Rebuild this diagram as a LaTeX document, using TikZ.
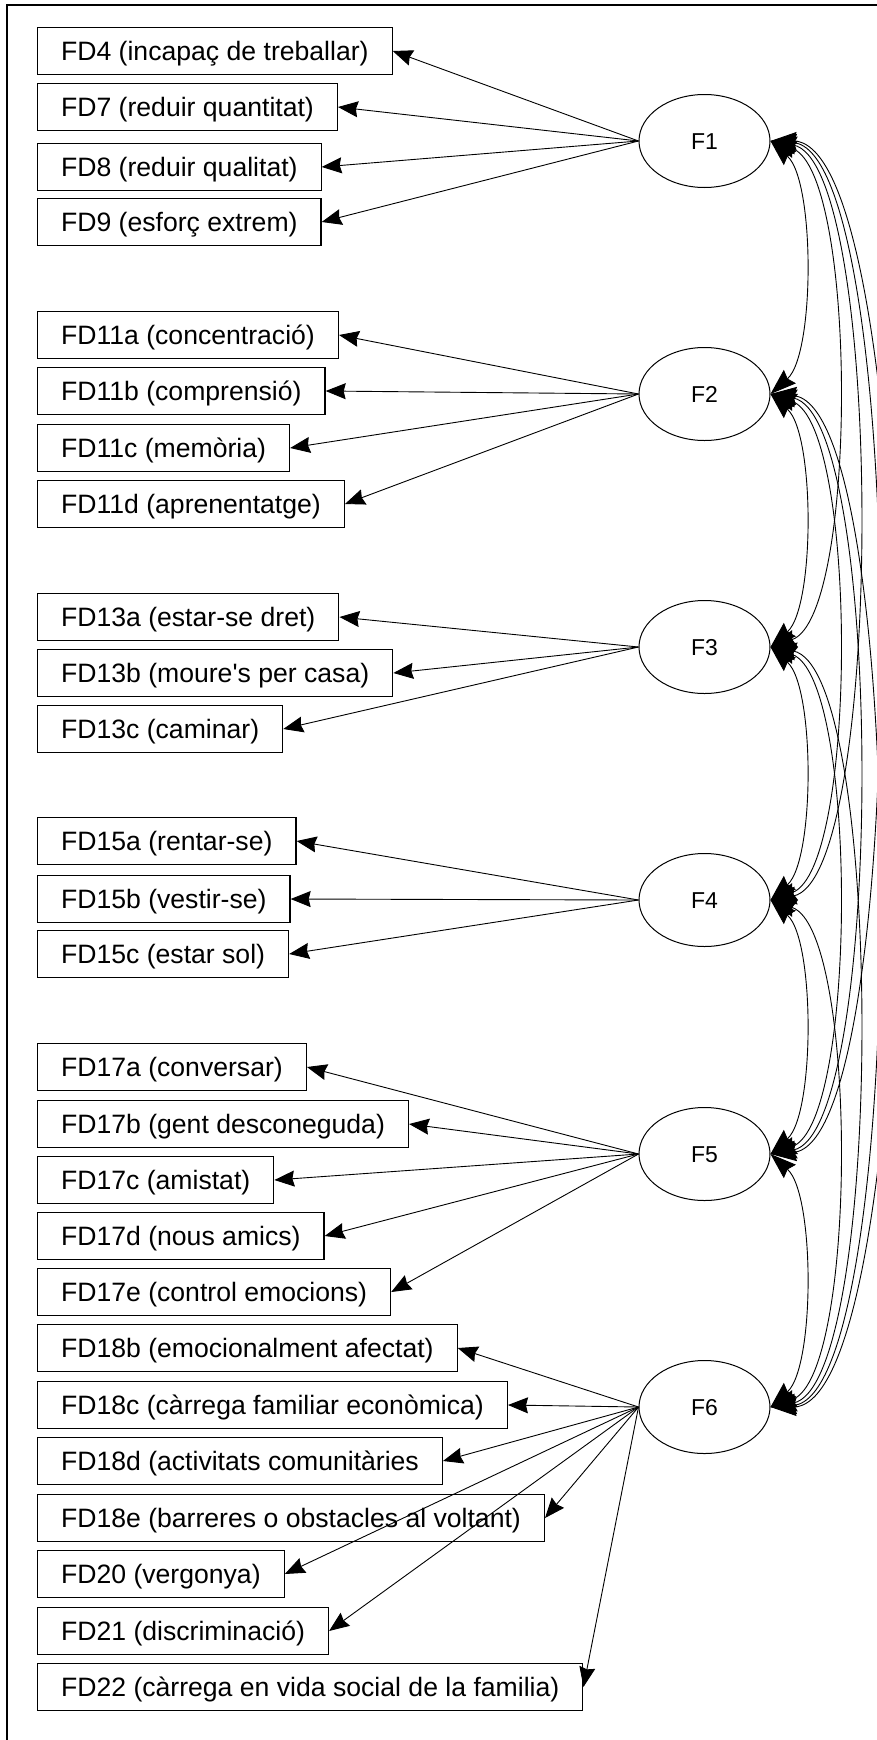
\documentclass[tikz,border=0pt]{standalone}
\usepackage{fontspec}
\newfontfamily\diagfont{Liberation Sans}
\usetikzlibrary{shapes.geometric,arrows.meta}

\begin{document}
\begin{tikzpicture}[x=1pt, y=-1pt,
    item/.style={draw, line width=1.2pt, anchor=west, minimum height=47pt,
      inner xsep=23.5pt, inner ysep=0pt, text height=19pt, text depth=0pt,
      font=\diagfont\fontsize{26.6}{30}\selectfont},
    factor/.style={draw, ellipse, line width=1pt, minimum width=131pt,
      minimum height=93pt, inner sep=0pt, text height=16pt, text depth=0pt,
      font=\diagfont\fontsize{23}{26}\selectfont},
    load/.style={line width=0.9pt, -{Stealth[length=20pt, width=16pt, inset=2pt]}},
    corr/.style={line width=0.9pt, {Stealth[length=26pt, width=18pt, inset=3pt]}-{Stealth[length=26pt, width=18pt, inset=3pt]}}]
      \clip (0,0) rectangle (877,1740);
      \draw[line width=2.2pt] (7,1740) -- (7,5) -- (877,5);

      \node[factor] (F1) at (704.5,141) {F1};
      \node[factor] (F2) at (704.5,394) {F2};
      \node[factor] (F3) at (704.5,647) {F3};
      \node[factor] (F4) at (704.5,900) {F4};
      \node[factor] (F5) at (704.5,1154) {F5};
      \node[factor] (F6) at (704.5,1407) {F6};

      \node[item] (fd4) at (37,51) {FD4 (incapaç de treballar)};
      \node[item] (fd7) at (37,107) {FD7 (reduir quantitat)};
      \node[item] (fd8) at (37,167) {FD8 (reduir qualitat)};
      \node[item] (fd9) at (37,222) {FD9 (esforç extrem)};
      \draw[load] (F1.west) -- (fd4.east);
      \draw[load] (F1.west) -- (fd7.east);
      \draw[load] (F1.west) -- (fd8.east);
      \draw[load] (F1.west) -- (fd9.east);

      \node[item] (fd11a) at (37,335) {FD11a (concentració)};
      \node[item] (fd11b) at (37,391) {FD11b (comprensió)};
      \node[item] (fd11c) at (37,448) {FD11c (memòria)};
      \node[item] (fd11d) at (37,504) {FD11d (aprenentatge)};
      \draw[load] (F2.west) -- (fd11a.east);
      \draw[load] (F2.west) -- (fd11b.east);
      \draw[load] (F2.west) -- (fd11c.east);
      \draw[load] (F2.west) -- (fd11d.east);

      \node[item] (fd13a) at (37,617) {FD13a (estar-se dret)};
      \node[item] (fd13b) at (37,673) {FD13b (moure's per casa)};
      \node[item] (fd13c) at (37,729) {FD13c (caminar)};
      \draw[load] (F3.west) -- (fd13a.east);
      \draw[load] (F3.west) -- (fd13b.east);
      \draw[load] (F3.west) -- (fd13c.east);

      \node[item] (fd15a) at (37,841) {FD15a (rentar-se)};
      \node[item] (fd15b) at (37,899) {FD15b (vestir-se)};
      \node[item] (fd15c) at (37,954) {FD15c (estar sol)};
      \draw[load] (F4.west) -- (fd15a.east);
      \draw[load] (F4.west) -- (fd15b.east);
      \draw[load] (F4.west) -- (fd15c.east);

      \node[item] (fd17a) at (37,1067) {FD17a (conversar)};
      \node[item] (fd17b) at (37,1124) {FD17b (gent desconeguda)};
      \node[item] (fd17c) at (37,1180) {FD17c (amistat)};
      \node[item] (fd17d) at (37,1236) {FD17d (nous amics)};
      \node[item] (fd17e) at (37,1292) {FD17e (control emocions)};
      \draw[load] (F5.west) -- (fd17a.east);
      \draw[load] (F5.west) -- (fd17b.east);
      \draw[load] (F5.west) -- (fd17c.east);
      \draw[load] (F5.west) -- (fd17d.east);
      \draw[load] (F5.west) -- (fd17e.east);

      \node[item] (fd18b) at (37,1348) {FD18b (emocionalment afectat)};
      \node[item] (fd18c) at (37,1405) {FD18c (càrrega familiar econòmica)};
      \node[item] (fd18d) at (37,1461) {FD18d (activitats comunitàries};
      \node[item] (fd18e) at (37,1518) {FD18e (barreres o obstacles al voltant)};
      \node[item] (fd20) at (37,1574) {FD20 (vergonya)};
      \node[item] (fd21) at (37,1631) {FD21 (discriminació)};
      \node[item] (fd22) at (37,1687) {FD22 (càrrega en vida social de la familia)};
      \draw[load] (F6.west) -- (fd18b.east);
      \draw[load] (F6.west) -- (fd18c.east);
      \draw[load] (F6.west) -- (fd18d.east);
      \draw[load] (F6.west) -- (fd18e.east);
      \draw[load] (F6.west) -- (fd20.east);
      \draw[load] (F6.west) -- (fd21.east);
      \draw[load] (F6.west) -- (fd22.east);

      \draw[corr] (F1.east) .. controls (815,181) and (815,354) .. (F2.east);
      \draw[corr] (F2.east) .. controls (815,434) and (815,607) .. (F3.east);
      \draw[corr] (F3.east) .. controls (815,687) and (815,860) .. (F4.east);
      \draw[corr] (F4.east) .. controls (815,940) and (815,1114) .. (F5.east);
      \draw[corr] (F5.east) .. controls (815,1194) and (815,1367) .. (F6.east);

      \draw[corr] (F1.east) .. controls (858,171) and (858,617) .. (F3.east);
      \draw[corr] (F2.east) .. controls (858,424) and (858,870) .. (F4.east);
      \draw[corr] (F3.east) .. controls (858,677) and (858,1124) .. (F5.east);
      \draw[corr] (F4.east) .. controls (858,930) and (858,1377) .. (F6.east);

      \draw[corr] (F1.east) .. controls (885,161) and (885,880) .. (F4.east);
      \draw[corr] (F2.east) .. controls (885,414) and (885,1134) .. (F5.east);
      \draw[corr] (F3.east) .. controls (885,667) and (885,1387) .. (F6.east);

      \draw[corr] (F1.east) .. controls (910,151) and (910,1144) .. (F5.east);
      \draw[corr] (F2.east) .. controls (910,404) and (910,1397) .. (F6.east);

      \draw[corr] (F1.east) .. controls (934,141) and (934,1407) .. (F6.east);
    \end{tikzpicture}
\end{document}
